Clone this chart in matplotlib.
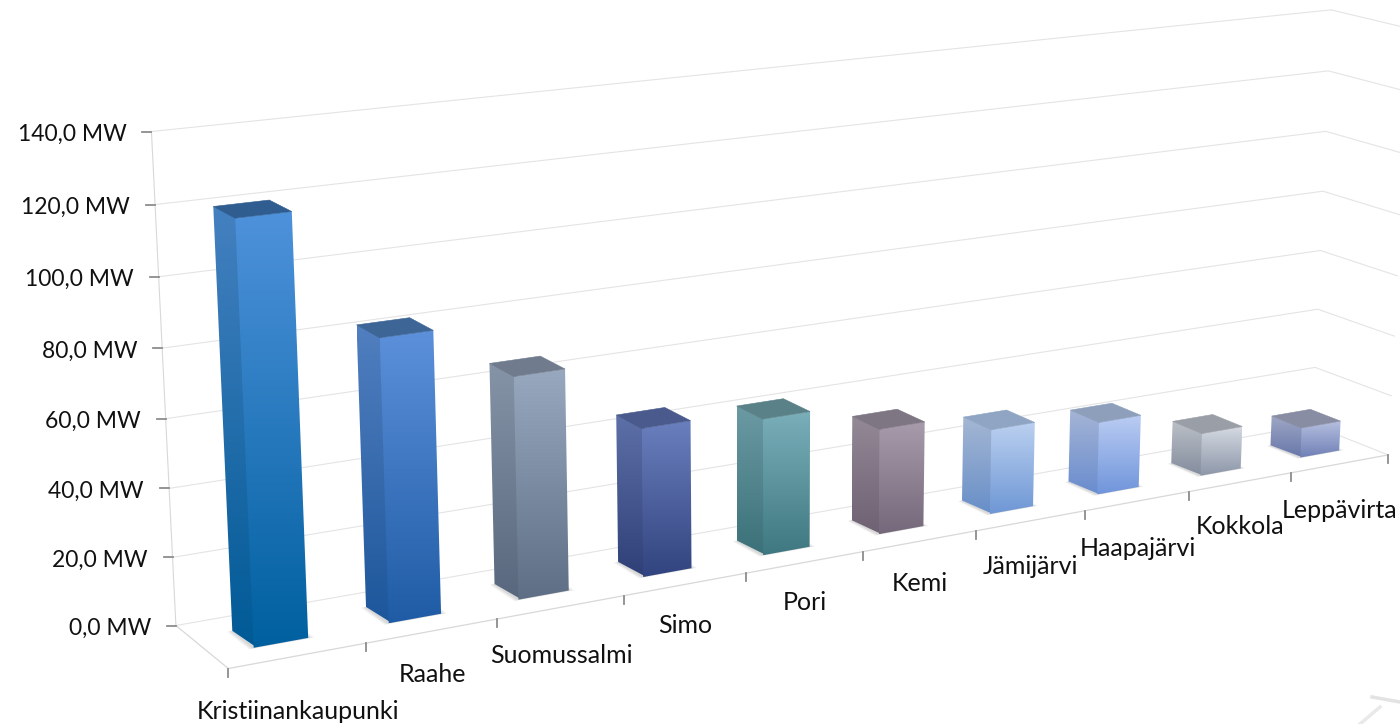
import numpy as np
import matplotlib
matplotlib.use('Agg')
import matplotlib.pyplot as plt
from matplotlib.colors import to_rgb
from matplotlib.patches import Polygon

plt.rcParams['font.family'] = ['Lato', 'DejaVu Sans']

places = ['Kristiinankaupunki', 'Raahe', 'Suomussalmi', 'Simo', 'Pori', 'Kemi',
          'Jämijärvi', 'Haapajärvi', 'Kokkola', 'Leppävirta']
power = [120.5, 82.5, 66, 45, 42, 33, 27, 23.5, 14, 10]
ticks = [0, 20, 40, 60, 80, 100, 120, 140]
tick_labels = ['0,0 MW', '20,0 MW', '40,0 MW', '60,0 MW', '80,0 MW', '100,0 MW', '120,0 MW', '140,0 MW']

face_top = ['#4E92DB', '#5C90DA', '#98A8BE', '#6A7FBE', '#7AAFBA', '#A89BAB', '#BBD0F0', '#BBCDF3', '#D5DAE2', '#B5BFE0']
face_bottom = ['#00609F', '#1F5CA5', '#5E6E85', '#32447F', '#3F7880', '#75687A', '#6E97D5', '#7095DB', '#8C96A8', '#6F7FB5']
cap = ['#2F5D8F', '#3D6595', '#707C8E', '#4A5A8C', '#5A8088', '#7E7683', '#8FA5C3', '#8E9FBC', '#9A9EA6', '#898DA3']

# label offsets below the axis, the original chart places them unevenly
label_drop = [56, 44, 48, 41, 40, 42, 46, 47, 44, 47]

# picture points used to fit the camera: (u, v, value) -> pixel
# u runs along the categories, v goes from front to back
anchors = [
    (0, 0, 0, 228, 668), (1, 0, 0, 1388, 454), (0, 1, 0, 176, 625), (1, 1, 0, 1311, 425),
    (0, 1, 140, 152, 131), (0, 1, 120, 155, 205), (0, 1, 100, 158, 277),
    (1, 1, 140, 1330, 10), (1, 1, 120, 1329, 71), (1, 1, 100, 1326, 131), (1, 1, 80, 1323, 191),
    (1, 1, 20, 1317, 368), (.1, 0, 0, 366, 644), (.4, 0, 0, 746, 573), (.5, 0, 0, 863, 552),
    (.8, 0, 0, 1189, 492), (.9, 0, 0, 1291, 473),
]


def fit_camera(pts):
    rows = []
    for u, v, z, px, py in pts:
        p = [u, v, z / 140, 1]
        x, y = px / 1000, py / 1000
        rows.append(p + [0, 0, 0, 0] + [-x * c for c in p])
        rows.append([0, 0, 0, 0] + p + [-y * c for c in p])
    return np.linalg.svd(np.array(rows))[2][-1].reshape(3, 4)


cam = fit_camera(anchors)


def project(u, v, z):
    h = cam @ np.array([u, v, z / 140, 1])
    return h[0] / h[2] * 1000, h[1] / h[2] * 1000


fig = plt.figure(figsize=(14, 7.24), dpi=100)
ax = fig.add_axes([0, 0, 1, 1])
ax.axis('off')

grid = '#E4E4E4'
for t in ticks:
    a, b, c = project(0, 1, t), project(1, 1, t), project(1, 0, t)
    ax.plot([a[0], b[0], c[0]], [a[1], b[1], c[1]], color=grid, lw=.8, zorder=1)
edge = [project(0, 1, 0), project(0, 1, 140)]
ax.plot(*zip(*edge), color='#D8D8D8', lw=.8, zorder=1)
floor = [project(0, 1, 0), project(0, 0, 0), project(1, 0, 0)]
ax.plot(*zip(*floor), color='#D8D8D8', lw=.9, zorder=1)

for t, lab in zip(ticks, tick_labels):
    x, y = project(0, 1, t)
    ax.plot([x - 9, x], [y, y], color='#8C8C8C', lw=1.3, zorder=2)
    ax.text(x - 25, y + 3, lab, ha='right', va='center', fontsize=16.5, color='#111111')

for i in range(len(places) + 1):
    x, y = project(i / len(places), 0, 0)
    ax.plot([x, x], [y, y + 8], color='#8C8C8C', lw=1.3, zorder=2)


def shade(poly, c1, c2, z):
    xs, ys = zip(*poly)
    c1, c2 = np.array(to_rgb(c1)), np.array(to_rgb(c2))
    f = np.linspace(0, 1, 256)[:, None, None]
    img = c1[None, None, :] * (1 - f) + c2[None, None, :] * f
    im = ax.imshow(img, extent=[min(xs), max(xs), max(ys), min(ys)], aspect='auto', zorder=z)
    im.set_clip_path(Polygon(poly, transform=ax.transData))


def darker(c, k=.88):
    return tuple(k * p for p in to_rgb(c))


n = len(places)
v0, v1 = .3, .7
for i, val in enumerate(power):
    # bars drift a little to the right of the tick spacing
    drift = .03 * i / (n - 1)
    u0, u1 = (i + .3 + drift) / n, (i + .7 + drift) / n
    for k in range(4):
        d = .002 * (k + 1)
        sh = [project(u0 - d / 2, v1, 0), project(u0 - d / 2, v0 - d * 2, 0), project(u1 + d / 2, v0 - d * 2, 0), project(u1 + d / 2, v1, 0)]
        ax.add_patch(Polygon(sh, fc='#000000', ec='none', alpha=.04, zorder=2))
    front = [project(u0, v0, val), project(u1, v0, val), project(u1, v0, 0), project(u0, v0, 0)]
    side = [project(u0, v1, val), project(u0 + .002, v0, val), project(u0 + .002, v0, 0), project(u0, v1, 0)]
    top = [project(u0, v1, val), project(u1, v1, val), project(u1, v0, val), project(u0, v0, val)]
    shade(side, darker(face_top[i]), darker(face_bottom[i], .94), 3)
    shade(front, face_top[i], face_bottom[i], 4)
    ax.add_patch(Polygon(top, fc=cap[i], ec=cap[i], lw=.4, zorder=5))
    x, y = project((i + .5) / n, 0, 0)
    ax.text(x, y + label_drop[i], places[i], ha='center', va='center', fontsize=18, color='#111111', zorder=6)

# faint remains of a decoration in the lower right corner
ax.plot([1372, 1400], [697, 702], color='#D8D8D8', lw=2.5, alpha=.7)
ax.plot([1360, 1380], [724, 707], color='#E0E0E0', lw=2.5, alpha=.7)

ax.set_xlim(0, 1400)
ax.set_ylim(724, 0)
fig.savefig('out.png', dpi=100, facecolor='white')
